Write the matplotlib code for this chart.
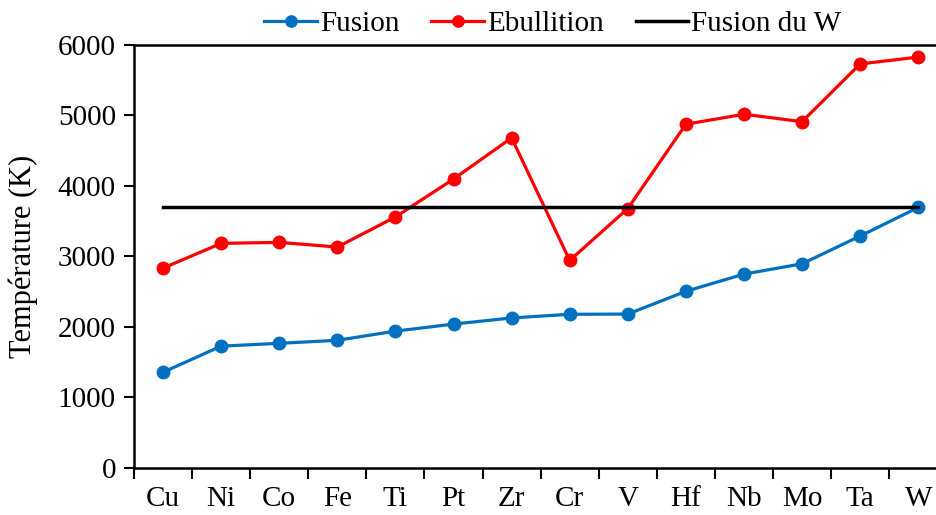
import numpy as np
import matplotlib.pyplot as plt

elements = ["Cu", "Ni", "Co", "Fe", "Ti", "Pt", "Zr", "Cr", "V", "Hf", "Nb", "Mo", "Ta", "W"]
fusion = [1358, 1728, 1768, 1811, 1941, 2041, 2128, 2180, 2183, 2506, 2750, 2896, 3290, 3695]
ebullition = [2835, 3186, 3200, 3134, 3560, 4098, 4682, 2944, 3680, 4876, 5017, 4912, 5731, 5828]
fusion_w = [3695] * len(elements)

plt.rcParams['font.family'] = ['Liberation Serif', 'DejaVu Serif']

fig = plt.figure(figsize=(9.37, 5.15), dpi=100)
ax = fig.add_axes([0.143, 0.0913, 0.868, 0.8214])

x = np.arange(len(elements))
ax.plot(x, fusion, color="#0070C0", lw=2.3, marker="o", ms=9, label="Fusion")
ax.plot(x, ebullition, color="#FF0000", lw=2.3, marker="o", ms=9, label="Ebullition")
ax.plot(x, fusion_w, color="black", lw=2.5, label="Fusion du W")

ax.set_xlim(-0.5, len(elements) - 0.5)
ax.set_ylim(0, 6000)
ax.set_yticks(np.arange(0, 6001, 1000))
ax.set_xticks(x)
ax.set_xticklabels(elements)
ax.set_xticks(np.arange(-0.5, len(elements), 1), minor=True)
ax.tick_params(axis="x", which="major", length=0, pad=13, labelsize=21)
ax.tick_params(axis="x", which="minor", length=8, width=1.5, direction="out")
ax.tick_params(axis="y", length=7, width=1.5, direction="out", labelsize=21, pad=6)
ax.set_ylabel("Température (K)", fontsize=22, labelpad=14)

ax.spines["right"].set_visible(False)
for s in ["left", "bottom", "top"]:
    ax.spines[s].set_linewidth(1.8)

ax.legend(loc="center", bbox_to_anchor=(0.515, 1.05), ncol=3, frameon=False,
          fontsize=21, handlelength=1.8, handletextpad=0.1, columnspacing=1.1,
          borderaxespad=0, markerscale=0.9)

fig.savefig("out.png", dpi=100)
